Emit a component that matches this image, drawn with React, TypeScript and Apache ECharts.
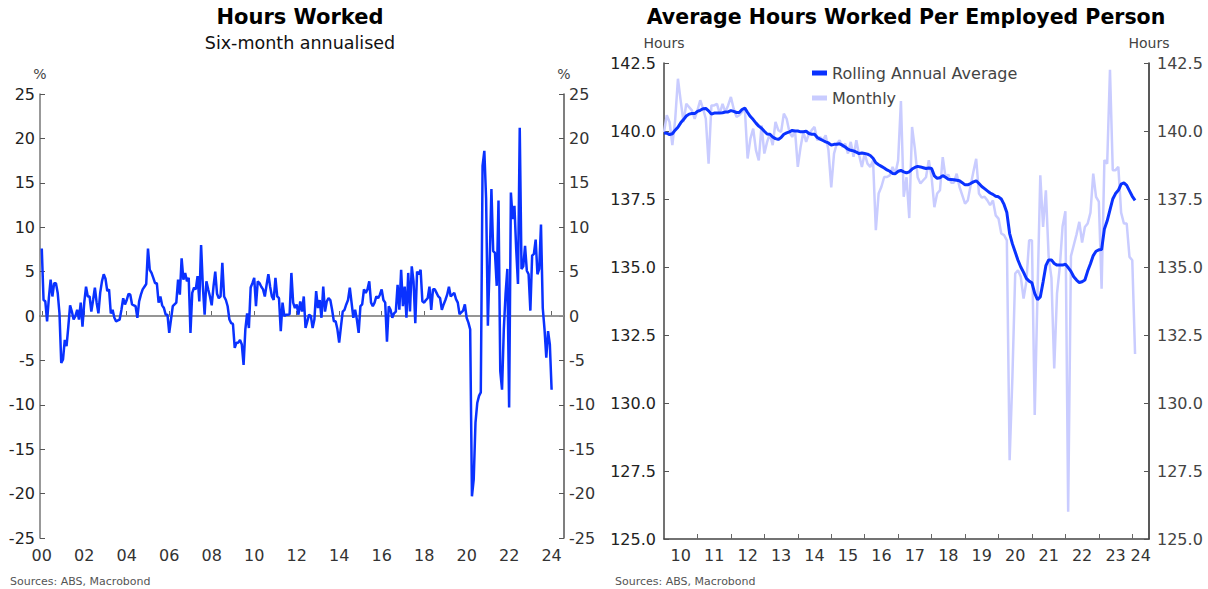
import React, { useEffect, useRef } from "react";
import * as echarts from "echarts";

// Hours worked, six-month annualised % change, monthly from Jan 2000 to Jan 2024
const hoursWorkedGrowth: number[] = [
  7.6, 1.8, 1.65, -0.6, 2.0, 4.1, 2.2, 3.7, 3.7, 2.6,
  0.3, -5.3, -4.9, -2.7, -3.4, -1.2, 1.2, 0.5, -0.4, 0.0,
  0.7, -0.4, 1.5, -1.2, 1.5, 3.3, 2.2, 2.2, 0.5, 1.8,
  3.2, 1.5, 0.3, 2.6, 3.9, 4.7, 4.2, 2.8, 3.0, 0.3,
  0.7, -0.2, -0.6, -0.5, -0.4, 0.7, 2.0, 1.3, 1.8, 2.5,
  2.4, 1.3, 1.2, 1.1, -0.2, 1.65, 2.4, 3.0, 3.3, 3.6,
  7.6, 5.2, 4.85, 4.3, 3.7, 3.7, 1.5, 2.2, 1.2, 0.9,
  0.15, 0.15, -1.9, -0.4, 1.1, 1.3, 1.5, 4.1, 2.4, 6.5,
  4.1, 4.85, 3.9, 4.3, -1.9, 2.6, 3.2, 3.0, 4.5, 1.65,
  8.0, 3.3, 0.15, 3.9, 3.0, 2.2, 1.2, 3.3, 5.0, 2.5,
  2.0, 2.2, 6.0, 2.2, 1.8, 1.1, -0.4, -0.8, -0.9, -3.6,
  -3.0, -3.0, -2.7, -3.2, -5.5, -1.5, 0.3, -1.35, 3.2, 3.7,
  4.3, 1.1, 3.9, 3.7, 3.3, 3.0, 2.2, 3.5, 4.7, 3.3,
  2.2, 1.8, 4.3, 2.2, 2.0, -1.7, 1.5, 0.0, 0.15, 0.15,
  0.2, 4.85, 1.5, 0.9, 1.3, 0.15, 1.65, 0.5, 2.2, -1.35,
  -0.6, 0.15, 0.0, -1.35, -0.4, 2.8, 0.9, 1.8, -0.2, 3.3,
  0.5, 1.65, 2.0, 1.8, 0.7, -0.6, -0.6, -1.5, -3.0, -1.2,
  0.5, 0.7, 1.3, 1.8, 3.2, 1.5, -0.2, 0.7, -0.4, -1.9,
  1.1, 1.3, 3.0, 2.6, 3.0, 3.9, 1.5, 1.1, 1.5, 2.2,
  2.0, 2.4, 3.0, 1.8, 1.5, -2.9, 1.1, 0.7, -0.2, 0.3,
  0.5, 3.5, 0.7, 5.2, 1.1, 3.3, -0.2, 4.85, 0.5, 5.6,
  3.9, -0.8, 5.0, 4.7, 5.2, 1.65, 1.5, 1.8, 2.0, 3.3,
  0.7, 3.0, 3.0, 2.6, 2.2, 2.0, 0.7, 1.3, 1.8, 2.4,
  3.3, 2.2, 2.4, 2.6, 1.9, 1.5, 0.2, 0.4, 0.6, 1.3,
  -0.2, -0.75, -1.5, -20.3, -18.4, -12.0, -9.8, -9.0, -8.6, 16.9,
  18.6, 13.2, -1.1, 6.0, 14.3, 7.3, 7.1, 3.4, 13.0, -6.2,
  -8.3, -1.5, 2.5, 5.3, -10.3, 13.9, 10.9, 12.4, 7.5, 3.6,
  21.2, 5.3, 5.6, 7.9, 5.1, 4.7, 0.6, 6.8, 7.0, 8.6,
  4.7, 5.3, 10.3, 0.9, -1.5, -4.7, -1.7, -3.2, -8.3,
];

// Average hours worked per employed person, monthly from Jan 2010
const monthlyHours: number[] = [
  139.96, 140.58, 140.33, 139.48, 140.4, 141.92, 141.1, 140.33, 141.0, 140.88,
  140.76, 140.45, 140.76, 141.13, 140.82, 140.45, 138.8, 140.94, 140.94, 141.0,
  140.64, 141.0, 140.7, 140.94, 141.25, 140.82, 140.52, 140.58, 140.7, 140.82,
  138.99, 139.72, 140.09, 139.29, 138.92, 140.21, 139.17, 139.6, 139.9, 139.48,
  140.33, 140.03, 139.96, 140.64, 140.45, 139.96, 139.78, 140.03, 138.68, 139.41,
  139.96, 139.6, 139.9, 140.03, 140.15, 139.66, 139.78, 139.66, 139.84, 139.29,
  137.93, 139.17, 139.54, 139.66, 139.41, 139.54, 139.17, 139.6, 139.05, 139.66,
  139.11, 138.68, 139.17, 138.8, 138.68, 138.92, 136.35, 137.7, 137.95, 138.31,
  138.31, 138.37, 138.68, 138.43, 138.92, 141.1, 137.58, 138.3, 136.8, 140.15,
  139.35, 138.3, 138.07, 138.19, 138.3, 138.93, 138.3, 137.2, 137.7, 137.82,
  139.04, 138.3, 138.4, 138.1, 138.1, 138.43, 137.95, 137.64, 137.33, 137.45,
  138.0, 138.5, 138.98, 137.7, 137.55, 137.58, 137.45, 137.27, 137.45, 136.9,
  136.78, 136.23, 136.17, 135.98, 127.9, 130.97, 134.76, 134.88, 134.64, 133.84,
  134.46, 135.98, 135.98, 129.56, 134.03, 138.37, 136.47, 137.82, 135.37, 134.6,
  131.27, 134.03, 135.0, 136.5, 137.05, 126.0, 135.4, 135.8, 136.2, 136.66,
  135.9, 136.47, 136.6, 137.0, 138.43, 137.58, 137.4, 134.2, 138.93, 138.8,
  142.25, 138.56, 138.56, 138.68, 137.0, 136.6, 136.6, 135.37, 135.25, 131.8,
];

// Rolling annual average, monthly from Jan 2010
const rollingAvgHours: number[] = [
  139.93, 139.92, 139.87, 139.9, 140.03, 140.14, 140.3, 140.42, 140.55, 140.62,
  140.64, 140.64, 140.72, 140.76, 140.82, 140.83, 140.74, 140.62, 140.66, 140.66,
  140.66, 140.67, 140.7, 140.7, 140.75, 140.72, 140.68, 140.68, 140.79, 140.84,
  140.68, 140.53, 140.42, 140.29, 140.18, 140.1, 139.99, 139.89, 139.88, 139.78,
  139.72, 139.69, 139.76, 139.88, 139.93, 139.97, 140.02, 140.0, 140.0, 139.97,
  139.97, 139.99, 139.91, 139.88, 139.88, 139.76, 139.7, 139.65, 139.6, 139.56,
  139.48, 139.51, 139.51, 139.53, 139.48, 139.41, 139.33, 139.29, 139.27, 139.22,
  139.17, 139.19, 139.17, 139.15, 139.1, 139.0, 138.83, 138.76, 138.7, 138.64,
  138.57, 138.52, 138.44, 138.43, 138.52, 138.55, 138.5, 138.46, 138.5, 138.6,
  138.66, 138.7, 138.68, 138.65, 138.62, 138.64, 138.62, 138.35, 138.26, 138.28,
  138.36, 138.3, 138.23, 138.22, 138.21, 138.19, 138.17, 138.1, 138.02, 138.02,
  138.07, 138.13, 138.17, 138.07, 137.96, 137.88, 137.8, 137.72, 137.67, 137.6,
  137.58, 137.5, 137.3, 137.0, 136.23, 135.85, 135.55, 135.25, 135.0, 134.8,
  134.58, 134.48, 134.42, 134.03, 133.8, 133.9, 134.45, 135.05, 135.26, 135.26,
  135.13, 135.07, 135.07, 135.07, 135.1, 134.98, 134.84, 134.64, 134.52, 134.43,
  134.46, 134.52, 134.85, 135.12, 135.42, 135.58, 135.63, 135.64, 136.4, 136.7,
  137.1, 137.5, 137.7, 137.82, 138.05, 138.09, 138.0, 137.8, 137.6, 137.45,
];

const leftXTickLabels = ["00", "02", "04", "06", "08", "10", "12", "14", "16", "18", "20", "22", "24"];
const rightXTickLabels = ["10", "11", "12", "13", "14", "15", "16", "17", "18", "19", "20", "21", "22", "23", "24"];

function monthRange(startYear: number, startMonth: number, count: number): string[] {
  const out: string[] = [];
  let y = startYear;
  let m = startMonth;
  for (let i = 0; i < count; i++) {
    out.push(`${y}-${String(m).padStart(2, "0")}`);
    m++;
    if (m > 12) { m = 1; y++; }
  }
  return out;
}

const leftCategories = monthRange(1999, 12, 297); // Dec 1999 .. Aug 2024
const rightCategories = monthRange(2010, 1, 175); // Jan 2010 .. Jul 2024

function alignTo(categories: string[], start: string, values: number[]) {
  const off = categories.indexOf(start);
  return categories.map((_, i) => {
    const v = values[i - off];
    return v === undefined ? null : v;
  });
}

const FONT = "DejaVu Sans";
const BLUE = "#0a32ff";
const LAVENDER = "#c9ccff";

export default function App() {
  const ref = useRef<HTMLDivElement>(null);
  useEffect(() => {
    if (!ref.current) return;
    const chart = echarts.init(ref.current, undefined, { renderer: "svg" });

    const leftTickSet = new Set(leftXTickLabels.map((y) => `20${y}-01`));
    const rightLabelSet = new Set(
      rightXTickLabels.map((y) => (y === "24" ? "2024-04" : `20${y}-07`))
    );

    const yAxisCommon = {
      type: "value" as const,
      splitLine: { show: false },
      axisTick: { show: true, inside: true, length: 5, lineStyle: { color: "#555" } },
      nameLocation: "end" as const,
    };

    chart.setOption({
      animation: false,
      textStyle: { fontFamily: FONT },
      grid: [
        { left: 40, top: 94, width: 524, height: 444 },
        { left: 664, top: 63, width: 485, height: 476 },
      ],
      xAxis: [
        {
          type: "category",
          gridIndex: 0,
          data: leftCategories,
          boundaryGap: false,
          axisLine: { lineStyle: { color: "#666", width: 1.5 } },
          axisTick: {
            inside: true,
            length: 5,
            interval: (_i: number, v: string) => leftTickSet.has(v),
            lineStyle: { color: "#666" },
          },
          axisLabel: {
            interval: (_i: number, v: string) => leftTickSet.has(v),
            formatter: (v: string) => v.slice(2, 4),
            fontSize: 16,
            color: "#333",
            margin: 9,
          },
          splitLine: { show: false },
        },
        {
          type: "category",
          gridIndex: 1,
          data: rightCategories,
          boundaryGap: false,
          axisLine: { lineStyle: { color: "#444", width: 1.5 } },
          axisTick: {
            inside: true,
            length: 5,
            interval: (i: number, v: string) => i > 0 && v.endsWith("-01"),
            lineStyle: { color: "#666" },
          },
          axisLabel: {
            interval: (_i: number, v: string) => rightLabelSet.has(v),
            formatter: (v: string) => v.slice(2, 4),
            fontSize: 16,
            color: "#333",
            margin: 8,
          },
          splitLine: { show: false },
        },
      ],
      yAxis: [
        {
          ...yAxisCommon,
          gridIndex: 0,
          position: "left",
          min: -25,
          max: 25,
          interval: 5,
          name: "%",
          nameGap: 13,
          nameTextStyle: { fontSize: 14, color: "#444" },
          axisLine: { show: true, lineStyle: { color: "#777", width: 1.5 } },
          axisLabel: { fontSize: 16, color: "#222", margin: 5 },
        },
        {
          ...yAxisCommon,
          gridIndex: 0,
          position: "right",
          min: -25,
          max: 25,
          interval: 5,
          name: "%",
          nameGap: 13,
          nameTextStyle: { fontSize: 14, color: "#444" },
          axisLine: { show: true, lineStyle: { color: "#555", width: 1.5 } },
          axisLabel: { fontSize: 16, color: "#333", margin: 5 },
        },
        {
          ...yAxisCommon,
          gridIndex: 1,
          position: "left",
          min: 125,
          max: 142.5,
          interval: 2.5,
          name: "Hours",
          nameGap: 13,
          nameTextStyle: { fontSize: 14, color: "#444" },
          axisLine: { show: true, lineStyle: { color: "#444", width: 1.5 } },
          axisLabel: { fontSize: 16, color: "#222", margin: 8, formatter: (v: number) => v.toFixed(1) },
        },
        {
          ...yAxisCommon,
          gridIndex: 1,
          position: "right",
          min: 125,
          max: 142.5,
          interval: 2.5,
          name: "Hours",
          nameGap: 13,
          nameTextStyle: { fontSize: 14, color: "#444" },
          axisLine: { show: true, lineStyle: { color: "#222", width: 1.5 } },
          axisLabel: { fontSize: 16, color: "#444", margin: 8, formatter: (v: number) => v.toFixed(1) },
        },
      ],
      legend: {
        data: ["Rolling Annual Average", "Monthly"],
        orient: "vertical",
        left: 807,
        top: 60,
        icon: "rect",
        itemWidth: 15,
        itemHeight: 5,
        itemGap: 9,
        textStyle: { fontSize: 16, color: "#444" },
      },
      series: [
        {
          type: "line",
          name: "Hours Worked",
          xAxisIndex: 0,
          yAxisIndex: 0,
          data: alignTo(leftCategories, "2000-01", hoursWorkedGrowth),
          showSymbol: false,
          z: 3,
          lineStyle: { color: BLUE, width: 2.5 },
          itemStyle: { color: BLUE },
          markLine: {
            silent: true,
            z: 1,
            symbol: ["none", "none"],
            label: { show: false },
            lineStyle: { color: "#999", width: 1.5, type: "solid" },
            data: [{ yAxis: 0 }],
          },
        },
        {
          type: "line",
          name: "Monthly",
          xAxisIndex: 1,
          yAxisIndex: 2,
          data: alignTo(rightCategories, "2010-01", monthlyHours),
          showSymbol: false,
          z: 2,
          lineStyle: { color: LAVENDER, width: 2.5 },
          itemStyle: { color: LAVENDER },
        },
        {
          type: "line",
          name: "Rolling Annual Average",
          xAxisIndex: 1,
          yAxisIndex: 2,
          data: alignTo(rightCategories, "2010-01", rollingAvgHours),
          showSymbol: false,
          z: 3,
          lineStyle: { color: BLUE, width: 3 },
          itemStyle: { color: BLUE },
        },
      ],
      graphic: [
        {
          type: "text",
          x: 300,
          y: 17,
          style: { text: "Hours Worked", font: `bold 21px ${FONT}`, fill: "#000", align: "center", verticalAlign: "middle" },
        },
        {
          type: "text",
          x: 300,
          y: 43,
          style: { text: "Six-month annualised", font: `17.5px ${FONT}`, fill: "#111", align: "center", verticalAlign: "middle" },
        },
        {
          type: "text",
          x: 906,
          y: 17,
          style: { text: "Average Hours Worked Per Employed Person", font: `bold 20.5px ${FONT}`, fill: "#000", align: "center", verticalAlign: "middle" },
        },
        {
          type: "text",
          x: 10,
          y: 581,
          style: { text: "Sources: ABS, Macrobond", font: `11px ${FONT}`, fill: "#555", align: "left", verticalAlign: "middle" },
        },
        {
          type: "text",
          x: 615,
          y: 581,
          style: { text: "Sources: ABS, Macrobond", font: `11px ${FONT}`, fill: "#555", align: "left", verticalAlign: "middle" },
        },
      ],
    });
    return () => chart.dispose();
  }, []);

  return (
    <div
      ref={ref}
      style={{ position: "absolute", left: 0, top: 0, width: 1208, height: 589, background: "#fff" }}
    />
  );
}
